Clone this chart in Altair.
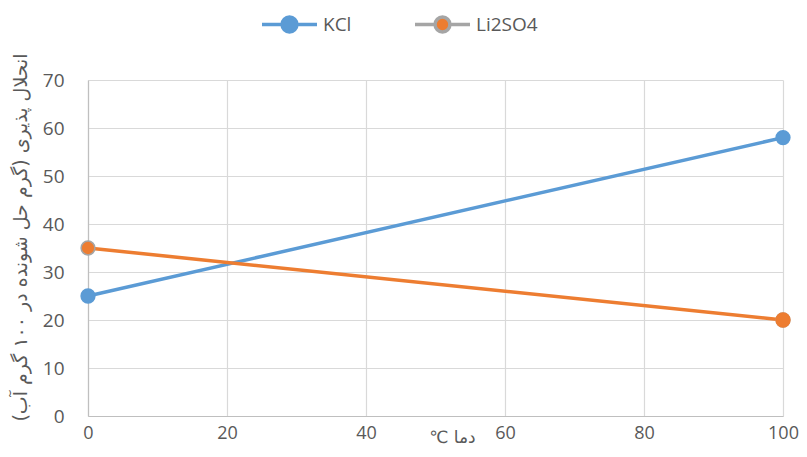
import altair as alt
import pandas as pd

temps = [0, 100]
kcl = [25, 58]
li2so4 = [35, 20]
series_names = ["KCl", "Li2SO4"]
line_colors = ["#5B9BD5", "#ED7D31"]
marker_strokes = ["#5B9BD5", "#A5A5A5"]
x_ticks = [0, 20, 40, 60, 80, 100]
y_ticks = [0, 10, 20, 30, 40, 50, 60, 70]
x_title = "\u2103 دما"
y_title = "انحلال پذیری (گرم حل شونده در ۱۰۰ گرم آب)\u200f"

rows = []
for t, v in zip(temps, kcl):
    rows.append({"x": t, "y": v, "series": "KCl"})
for t, v in zip(temps, li2so4):
    rows.append({"x": t, "y": v, "series": "Li2SO4"})
df = pd.DataFrame(rows)
df["line_series"] = df["series"]

FONT = "Open Sans"
LBL = "#595959"

legend_path = ("M-1,0L-0.3,0M0.3,0L1,0"
               "M-0.27,0A0.27,0.27,0,1,1,0.27,0A0.27,0.27,0,1,1,-0.27,0Z")

leg = alt.Legend(
    title=None, orient="none", direction="horizontal",
    legendX=172, legendY=-85,
    symbolType=legend_path, symbolSize=3025, symbolStrokeWidth=3.5,
    labelFontSize=19, labelColor=LBL, labelFont=FONT, labelOffset=4,
    columnPadding=56,
)

xenc = alt.X("x:Q", scale=alt.Scale(domain=[0, 100], nice=False),
             axis=alt.Axis(values=x_ticks, title=x_title, titleX=364, titleY=21,
                           titleBaseline="middle", titleAlign="center",
                           titleFontSize=17, titleFont="DejaVu Sans",
                           titleFontWeight="normal", titleColor=LBL,
                           labelPadding=8, labelFontSize=18, labelFlush=False))
yenc = alt.Y("y:Q", scale=alt.Scale(domain=[0, 70], nice=False),
             axis=alt.Axis(values=y_ticks, title=y_title, titleX=-68, titleY=157,
                           titleAngle=270,
                           titleBaseline="middle", titleAlign="center",
                           titleFontSize=19, titleFont="DejaVu Sans",
                           titleFontWeight="normal", titleColor=LBL,
                           labelPadding=24))

base = alt.Chart(df)

lines = base.mark_line(strokeWidth=3.5).encode(
    x=xenc, y=yenc,
    color=alt.Color("line_series:N", scale=alt.Scale(range=line_colors), legend=None),
)

points = base.mark_circle(size=190, opacity=1, strokeWidth=1.5).encode(
    x="x:Q", y="y:Q",
    fill=alt.Fill("series:N", scale=alt.Scale(domain=series_names, range=line_colors), legend=leg),
    stroke=alt.Stroke("series:N", scale=alt.Scale(domain=series_names, range=marker_strokes), legend=leg),
)

overlay = base.transform_filter(
    (alt.datum.series == "Li2SO4") & (alt.datum.x == 100)
).mark_circle(size=190, opacity=1, strokeWidth=1.5, fill="#ED7D31", stroke="#ED7D31").encode(
    x="x:Q", y="y:Q"
)

chart = alt.layer(lines, points, overlay).properties(
    width=695, height=336,
    autosize=alt.AutoSizeParams(type="none"),
    padding={"left": 80, "top": 72, "right": 16, "bottom": 33},
).configure_axis(
    domainColor="#BFBFBF", domainWidth=1.2,
    gridColor="#D9D9D9", gridWidth=1.2,
    ticks=False, labelColor=LBL, labelFontSize=19, labelFont=FONT,
).configure_view(stroke=None)

chart.save("out.html", embed_options={"renderer": "svg", "actions": False})
